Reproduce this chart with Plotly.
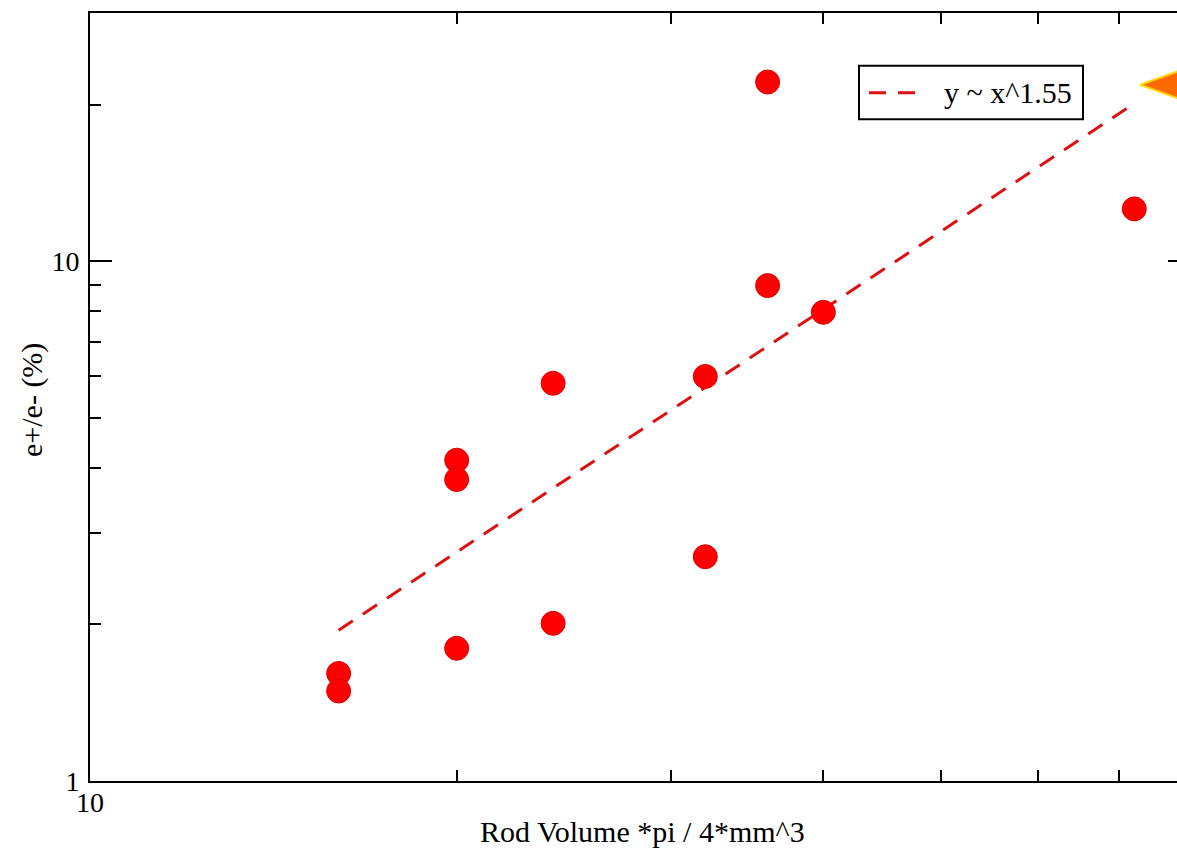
import math
import plotly.graph_objects as go

# ---------------- data ----------------
rod_volume = [16, 16, 20, 20, 20, 24, 24, 32, 32, 36, 36, 40, 72]
positron_ratio = [1.61, 1.49, 4.14, 3.80, 1.80, 5.82, 2.01, 6.00, 2.70, 22.1, 8.97, 7.97, 12.6]

fit_x = [16, 72]
fit_y = [1.95, 20.1]
fit_label = "y ~ x^1.55"

# orange arrow head (partly cut off at the right edge of the picture)
arrow_x = [72.8, 81.5, 81.5, 72.8]
arrow_y = [21.83, 23.99, 19.86, 21.83]

x_ticks = [10, 20, 30, 40, 50, 60, 70]
x_tick_labels = ["10", "", "", "", "", "", ""]
y_major_ticks = [1, 10]
y_major_labels = ["1", "10"]
y_minor_ticks = [2, 3, 4, 5, 6, 7, 8, 9, 20]

x_title = "Rod Volume *pi / 4*mm^3"
y_title = "e+/e- (%)"

# ---------------- layout (page pixel coordinates) ----------------
W, H = 1210, 854
L, T = 90, 11          # plot area left / top
PR, PB = 1190, 781     # plot area right / bottom (right edge lies past the window)
plot_w = PR - L
plot_h = PB - T
x_range = [1.0, math.log10(80)]
y_range = [0.0, math.log10(30)]

FONT = "Liberation Serif, Times New Roman, serif"
DASH = "17px,12px"
FIT_COLOR = "#dd1010"


def px(xp):
    return (xp - L) / plot_w


def py(yp):
    return (PB - yp) / plot_h


fig = go.Figure()

fig.add_trace(go.Scatter(
    x=arrow_x, y=arrow_y, mode="lines", fill="toself",
    fillcolor="#ff6a00", line=dict(color="#ffd800", width=2),
    showlegend=False, hoverinfo="skip",
))

fig.add_trace(go.Scatter(
    x=fit_x, y=fit_y, mode="lines", name=fit_label, showlegend=False,
    line=dict(color=FIT_COLOR, width=3, dash=DASH),
))

fig.add_trace(go.Scatter(
    x=rod_volume, y=positron_ratio, mode="markers", showlegend=False,
    marker=dict(symbol="circle", size=24, color="#ff0000",
                line=dict(color="#e00000", width=1)),
))

axis_common = dict(
    type="log", showgrid=False, zeroline=False,
    showline=True, linecolor="black", linewidth=2, mirror="ticks",
    ticks="inside", tickwidth=2, tickcolor="black",
    tickfont=dict(family=FONT, size=28, color="black"),
)

fig.update_layout(
    width=W, height=H,
    margin=dict(l=L, r=W - PR, t=T, b=H - PB, pad=0),
    paper_bgcolor="white", plot_bgcolor="white",
    font=dict(family=FONT, color="black"),
    showlegend=False,
    xaxis=dict(
        **axis_common, range=x_range, ticklen=11,
        tickmode="array", tickvals=x_ticks, ticktext=x_tick_labels,
        ticklabelstandoff=-5,
    ),
    yaxis=dict(
        **axis_common, range=y_range, ticklen=22,
        tickmode="array", tickvals=y_major_ticks, ticktext=y_major_labels,
        ticklabelstandoff=3,
        minor=dict(tickmode="array", tickvals=y_minor_ticks, ticks="inside",
                   ticklen=11, tickwidth=2, tickcolor="black", showgrid=False),
    ),
)

# legend box drawn by hand (wide dashed sample as in the reference)
fig.add_shape(type="rect", xref="paper", yref="paper",
              x0=px(859), x1=px(1083), y0=py(117.5), y1=py(64),
              line=dict(color="black", width=2), fillcolor="white", layer="above")
fig.add_shape(type="line", xref="paper", yref="paper",
              x0=px(869), x1=px(917), y0=py(91), y1=py(91),
              line=dict(color=FIT_COLOR, width=3, dash=DASH), layer="above")
fig.add_annotation(text=fit_label, xref="paper", yref="paper",
                   x=px(942), y=py(91), xanchor="left", yanchor="middle",
                   showarrow=False, font=dict(family=FONT, size=30, color="black"))

fig.add_annotation(text=x_title, xref="paper", yref="paper",
                   x=px(642.5), y=py(832),
                   xanchor="center", yanchor="middle", showarrow=False,
                   font=dict(family=FONT, size=30, color="black"))
fig.add_annotation(text=y_title, xref="paper", yref="paper", textangle=-90,
                   x=px(32), y=py(399),
                   xanchor="center", yanchor="middle", showarrow=False,
                   font=dict(family=FONT, size=30, color="black"))

# put the figure at the page's top-left corner and hide the overflow,
# so the window shows the same cropped view as the reference
fig.write_html(
    "out.html",
    config={"displayModeBar": False},
    post_script=(
        "document.body.style.margin='0';"
        "document.body.style.overflow='hidden';"
        "document.documentElement.style.overflow='hidden';"
    ),
)
